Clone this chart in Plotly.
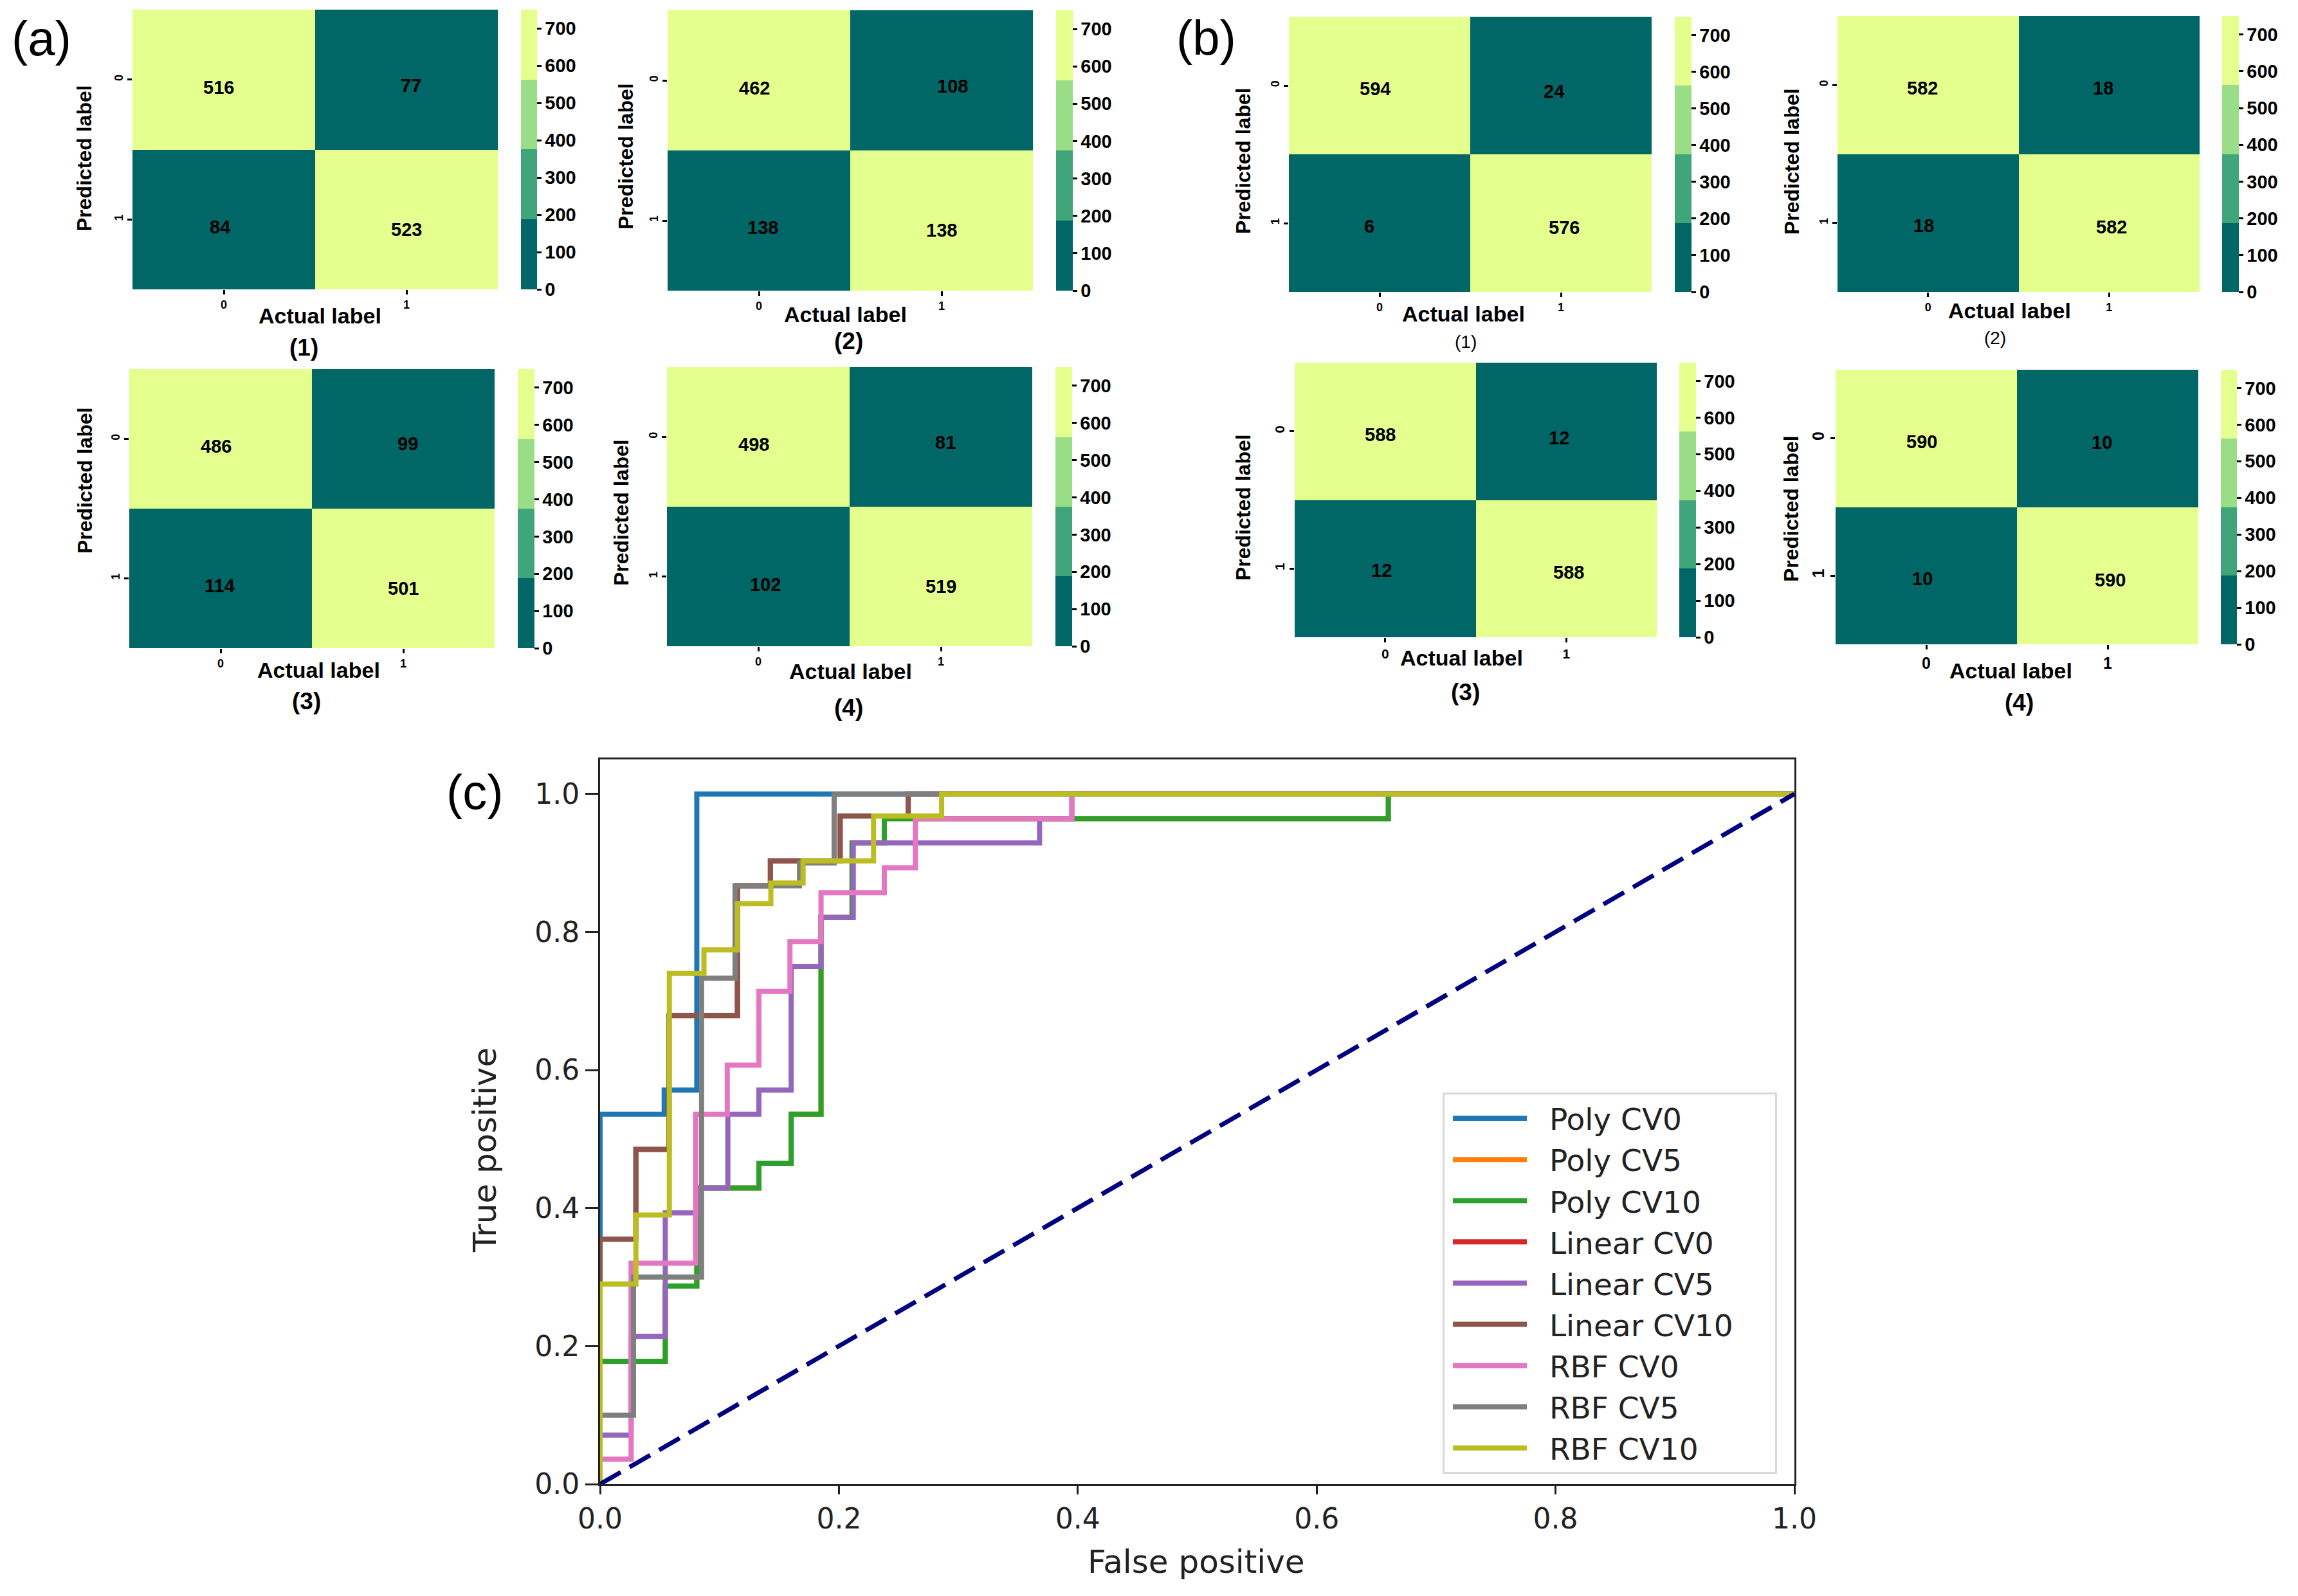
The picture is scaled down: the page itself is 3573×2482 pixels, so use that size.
import plotly.graph_objects as go

W, H = 3573, 2482

# ---------- data ----------
cell_ticks = [0, 1]
cbar_ticks = [0, 100, 200, 300, 400, 500, 600, 700]
shade = [[700, 0], [0, 700]]

a1_counts = [[516, 77], [84, 523]]
a2_counts = [[462, 108], [138, 138]]
a3_counts = [[486, 99], [114, 501]]
a4_counts = [[498, 81], [102, 519]]
b1_counts = [[594, 24], [6, 576]]
b2_counts = [[582, 18], [18, 582]]
b3_counts = [[588, 12], [12, 588]]
b4_counts = [[590, 10], [10, 590]]

roc_names = ["Poly CV0", "Poly CV5", "Poly CV10", "Linear CV0", "Linear CV5",
             "Linear CV10", "RBF CV0", "RBF CV5", "RBF CV10"]

poly0_x = [0, 0, 0.0537, 0.081, 1]
poly0_y = [0, 0.536, 0.571, 1, 1]
poly5_x = [0, 0, 0.0546, 0.081, 0.133, 0.16, 0.185, 0.211, 0.238, 0.66, 1]
poly5_y = [0, 0.178, 0.287, 0.429, 0.465, 0.536, 0.821, 0.929, 0.964, 1, 1]
poly10_x = [0, 0, 0.0546, 0.081, 0.133, 0.16, 0.185, 0.211, 0.238, 0.66, 1]
poly10_y = [0, 0.178, 0.287, 0.429, 0.465, 0.536, 0.821, 0.929, 0.964, 1, 1]
linear0_x = [0, 0, 0.03, 0.0577, 0.115, 0.1426, 0.201, 0.258, 1]
linear0_y = [0, 0.355, 0.485, 0.679, 0.867, 0.903, 0.968, 1, 1]
linear5_x = [0, 0, 0.026, 0.0546, 0.081, 0.107, 0.133, 0.16, 0.185, 0.212, 0.368, 0.395, 1]
linear5_y = [0, 0.071, 0.214, 0.393, 0.429, 0.536, 0.571, 0.75, 0.821, 0.929, 0.964, 1, 1]
linear10_x = [0, 0, 0.03, 0.0577, 0.115, 0.1426, 0.201, 0.258, 1]
linear10_y = [0, 0.355, 0.485, 0.679, 0.867, 0.903, 0.968, 1, 1]
rbf0_x = [0, 0, 0.026, 0.08, 0.1065, 0.133, 0.159, 0.185, 0.238, 0.264, 0.395, 1]
rbf0_y = [0, 0.036, 0.32, 0.536, 0.607, 0.714, 0.786, 0.857, 0.893, 0.964, 1, 1]
rbf5_x = [0, 0, 0.028, 0.085, 0.113, 0.167, 0.196, 1]
rbf5_y = [0, 0.1, 0.3, 0.733, 0.867, 0.9, 1, 1]
rbf10_x = [0, 0, 0.03, 0.058, 0.087, 0.115, 0.143, 0.17, 0.229, 0.286, 1]
rbf10_y = [0, 0.29, 0.39, 0.74, 0.774, 0.841, 0.871, 0.903, 0.968, 1, 1]
chance_x = [0, 1]
chance_y = [0, 1]

# ---------- layout helpers ----------
roc_colors = ["#1f77b4", "#ff7f0e", "#2ca02c", "#d62728", "#9467bd",
              "#8c564b", "#e377c2", "#7f7f7f", "#bcbd22"]
roc_xs = [poly0_x, poly5_x, poly10_x, linear0_x, linear5_x, linear10_x, rbf0_x, rbf5_x, rbf10_x]
roc_ys = [poly0_y, poly5_y, poly10_y, linear0_y, linear5_y, linear10_y, rbf0_y, rbf5_y, rbf10_y]

band_colors = ["#006666", "#41a57b", "#99dd87", "#e4ff8e"]
scale = []
for i, c in enumerate(band_colors):
    scale += [[i / 4, c], [(i + 1) / 4, c]]

TXT = "Liberation Sans"
DJ = "DejaVu Sans"


def px(x):
    return x / W


def py(y):
    return 1 - y / H


def note(text, x, y, font, angle=0):
    return dict(x=px(x), y=py(y), xref="paper", yref="paper", text=text, showarrow=False,
                xanchor="center", yanchor="middle", textangle=angle, font=font)


panels = [
    dict(z=a1_counts, box=(206, 774, 15, 450), cb=(810, 835), xt=(497, 491), yt=(131, 246), sub=("(1)", 473, 540, True),
         shift=[[(-8, 12), (7, 9)], [(-6, 12), (0, 16)]], tick=18),
    dict(z=a2_counts, box=(1038, 1606, 16, 452), cb=(1642, 1668), xt=(1314, 489), yt=(973, 243), sub=("(2)", 1319, 531, True),
         shift=[[(-7, 12), (17, 9)], [(6, 11), (0, 15)]], tick=18),
    dict(z=a3_counts, box=(201, 769, 574, 1008), cb=(805, 831), xt=(495, 1042), yt=(132, 747), sub=("(3)", 476, 1090, True),
         shift=[[(-7, 11), (7, 7)], [(-2, 11), (0, 15)]], tick=18),
    dict(z=a4_counts, box=(1037, 1605, 571, 1005), cb=(1641, 1667), xt=(1322, 1044), yt=(966, 797), sub=("(4)", 1319, 1100, True),
         shift=[[(-7, 11), (7, 8)], [(11, 12), (0, 15)]], tick=18),
    dict(z=b1_counts, box=(2004, 2568, 26, 454), cb=(2604, 2630), xt=(2275, 488), yt=(1933, 250), sub=("(1)", 2279, 532, False),
         shift=[[(-7, 5), (-11, 9)], [(-16, 5), (5, 7)]], tick=18),
    dict(z=b2_counts, box=(2857, 3420, 25, 454), cb=(3455, 3481), xt=(3124, 483), yt=(2786, 251), sub=("(2)", 3102, 526, False),
         shift=[[(-9, 5), (-9, 5)], [(-7, 4), (4, 6)]], tick=18),
    dict(z=b3_counts, box=(2013, 2576, 564, 991), cb=(2611, 2637), xt=(2272, 1023), yt=(1933, 789), sub=("(3)", 2278, 1076, True),
         shift=[[(-8, 5), (-11, 10)], [(-6, 3), (4, 6)]], tick=21),
    dict(z=b4_counts, box=(2854, 3418, 575, 1002), cb=(3453, 3478), xt=(3126, 1043), yt=(2785, 791), sub=("(4)", 3139, 1092, True),
         shift=[[(-7, 5), (-9, 6)], [(-6, 5), (4, 7)]], tick=25),
]

fig = go.Figure()
layout = dict(
    width=W, height=H, margin=dict(l=0, r=0, t=0, b=0, autoexpand=False), paper_bgcolor="white", plot_bgcolor="white",
    font=dict(family=TXT, color="black"), showlegend=True,
)
annotations = []

for n, p in enumerate(panels, start=1):
    x0, x1, y0, y1 = p["box"]
    cx0, cx1 = p["cb"]
    suffix = "" if n == 1 else str(n)
    fig.add_trace(go.Heatmap(
        z=shade, x=cell_ticks, y=cell_ticks, zmin=0, zmax=750, colorscale=scale,
        xaxis="x" + suffix, yaxis="y" + suffix, hoverinfo="skip",
        colorbar=dict(
            x=px(cx0), xanchor="left", xpad=0, y=py(y1), yanchor="bottom", ypad=0,
            len=y1 - y0, lenmode="pixels", thickness=cx1 - cx0, thicknessmode="pixels",
            outlinewidth=0, tickvals=cbar_ticks, ticks="outside", ticklen=7, tickwidth=3,
            tickcolor="black", tickfont=dict(family=TXT, size=29, color="black", weight="bold"),
        ),
    ))
    layout["xaxis" + suffix] = dict(
        domain=[px(x0), px(x1)], anchor="y" + suffix, range=[-0.5, 1.5], tickvals=cell_ticks,
        ticks="outside", ticklen=7, tickwidth=3, tickcolor="black", showline=False, showgrid=False, zeroline=False,
        tickfont=dict(family=TXT, size=p["tick"], color="black", weight="bold"),
    )
    layout["yaxis" + suffix] = dict(
        domain=[py(y1), py(y0)], anchor="x" + suffix, range=[1.5, -0.5], tickvals=cell_ticks, tickangle=-90,
        ticks="outside", ticklen=7, tickwidth=3, tickcolor="black", showline=False, showgrid=False, zeroline=False,
        tickfont=dict(family=TXT, size=p["tick"], color="black", weight="bold"),
    )
    for r in cell_ticks:
        for c in cell_ticks:
            dx, dy = p["shift"][r][c]
            annotations.append(dict(
                x=c, y=r, xref="x" + suffix, yref="y" + suffix, text=str(p["z"][r][c]), showarrow=False,
                xshift=dx, yshift=-dy, font=dict(family=TXT, size=29, color="black", weight="bold"),
            ))
    annotations.append(note("Actual label", p["xt"][0], p["xt"][1],
                            dict(family=TXT, size=34, color="black", weight="bold")))
    annotations.append(note("Predicted label", p["yt"][0], p["yt"][1],
                            dict(family=TXT, size=32, color="black", weight="bold"), angle=-90))
    label, lx, ly, strong = p["sub"]
    annotations.append(note(label, lx, ly, dict(family=TXT, size=37 if strong else 28, color="black",
                                                weight="bold" if strong else "normal")))

# ROC subplot (non-breaking spaces set the gap after the key and the legend box width)
for name, color, xs, ys in zip(roc_names, roc_colors, roc_xs, roc_ys):
    fig.add_trace(go.Scatter(x=xs, y=ys, mode="lines", name="\u00a0\u00a0" + name + "\u00a0" * 4,
                             xaxis="x9", yaxis="y9",
                             line=dict(color=color, width=8, shape="hv"), hoverinfo="skip"))
fig.add_trace(go.Scatter(x=chance_x, y=chance_y, mode="lines", showlegend=False, xaxis="x9", yaxis="y9",
                         line=dict(color="navy", width=7, dash="37px,16px"), hoverinfo="skip"))

AX = "#222222"
roc_axis = dict(showline=True, linecolor=AX, linewidth=3, mirror=True, ticks="outside", tickwidth=3,
                tickcolor=AX, showgrid=False, zeroline=False, tickformat=".1f",
                tickvals=[0, 0.2, 0.4, 0.6, 0.8, 1.0],
                tickfont=dict(family=DJ, size=44, color=AX))
layout["xaxis9"] = dict(roc_axis, domain=[px(933), px(2790)], anchor="y9", range=[0, 1], ticklen=13)
layout["yaxis9"] = dict(roc_axis, domain=[py(2308), py(1181)], anchor="x9", range=[0, 1.05], ticklen=20)
layout["legend"] = dict(
    x=px(2243), xanchor="left", y=py(1699), yanchor="top", bgcolor="rgba(255,255,255,0.85)",
    bordercolor="#d9d9d9", borderwidth=3, itemwidth=115, indentation=8,
    font=dict(family=DJ, size=47, color=AX), tracegroupgap=0,
)

annotations.append(note("False positive", 1860, 2429, dict(family=DJ, size=50, color=AX)))
annotations.append(note("True positive", 754, 1789, dict(family=DJ, size=50, color=AX), angle=-90))

for text, x, y in [("(a)", 64, 60), ("(b)", 1876, 59), ("(c)", 738, 1231)]:
    annotations.append(note(text, x, y, dict(family=TXT, size=76, color="black")))

layout["annotations"] = annotations
fig.update_layout(**layout)
fig.write_html("out.html", post_script="document.body.style.margin='0';", config={"displayModeBar": False})
